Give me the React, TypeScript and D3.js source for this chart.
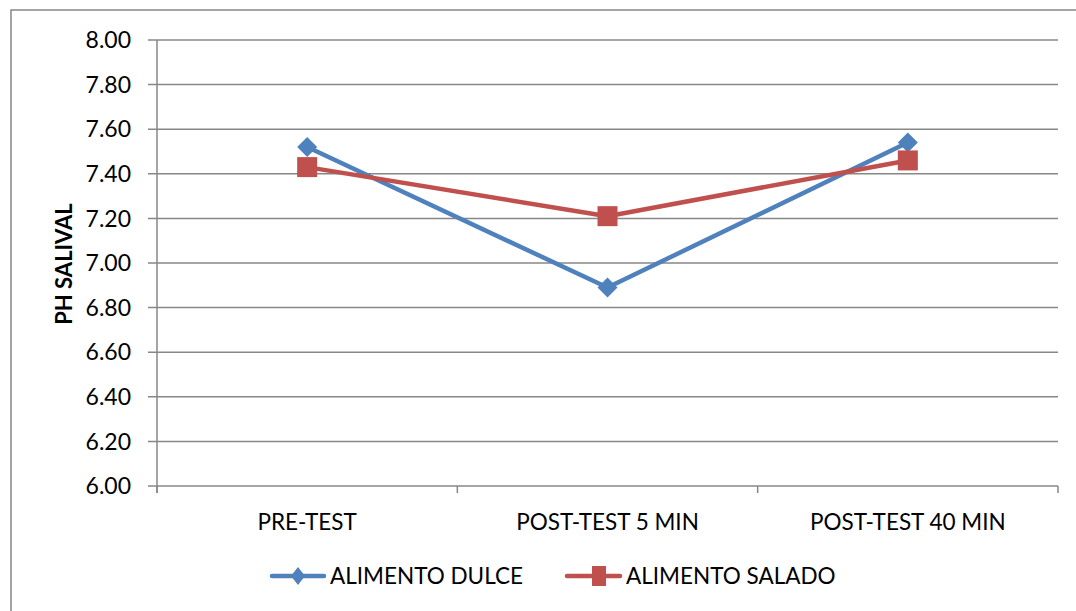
import React from "react";
import * as d3 from "d3";

const categories = ["PRE-TEST", "POST-TEST 5 MIN", "POST-TEST 40 MIN"];
const dulce = [7.52, 6.89, 7.54];
const salado = [7.43, 7.21, 7.46];
const yTicks = [6.0, 6.2, 6.4, 6.6, 6.8, 7.0, 7.2, 7.4, 7.6, 7.8, 8.0];
const seriesNames = ["ALIMENTO DULCE", "ALIMENTO SALADO"];

const W = 1076, H = 611;
const L = 157, R = 1058, T = 40, B = 486;
const FONT = "Lato, 'Open Sans', sans-serif";
const BLUE = "#4F81BD", RED = "#C0504D", GRID = "#878787";

export default function App() {
  const x = d3.scaleBand<string>().domain(categories).range([L, R]).padding(0);
  const y = d3.scaleLinear().domain([6, 8]).range([B, T]);
  const cx = (c: string) => (x(c) as number) + x.bandwidth() / 2;
  const line = d3.line<number>().x((_, i) => cx(categories[i])).y((d) => y(d));
  const diamond = (px: number, py: number, rx: number, ry: number) =>
    `M${px},${py - ry}L${px + rx},${py}L${px},${py + ry}L${px - rx},${py}Z`;
  const boundaries = [L, ...categories.map((c) => (x(c) as number) + x.bandwidth())];
  const LY = 576;

  return (
    <svg width={W} height={H} style={{ position: "absolute", left: 0, top: 0, background: "#fff" }}>
      <rect x={11} y={10} width={1080} height={620} fill="none" stroke={GRID} strokeWidth={1.5} />
      {yTicks.map((t) => (
        <g key={t}>
          <line x1={148} x2={R} y1={y(t)} y2={y(t)} stroke={GRID} strokeWidth={1.5} />
          <text x={131} y={y(t)} dy="0.36em" textAnchor="end" fontFamily={FONT} fontSize={23} fill="#000">
            {t.toFixed(2)}
          </text>
        </g>
      ))}
      <line x1={L} x2={L} y1={T} y2={B + 7} stroke={GRID} strokeWidth={1.5} />
      {boundaries.map((b, i) => (
        <line key={i} x1={b} x2={b} y1={B} y2={B + 7} stroke={GRID} strokeWidth={1.5} />
      ))}
      {categories.map((c) => (
        <text key={c} x={cx(c)} y={530} textAnchor="middle" fontFamily={FONT} fontSize={22.5} fill="#000">
          {c}
        </text>
      ))}
      <text
        transform={`translate(72,264) rotate(-90)`}
        textAnchor="middle"
        fontFamily={FONT}
        fontSize={22}
        fontWeight="bold"
        fill="#000"
      >
        PH SALIVAL
      </text>
      <path d={line(dulce) || ""} fill="none" stroke={BLUE} strokeWidth={4.5} strokeLinejoin="round" />
      <path d={line(salado) || ""} fill="none" stroke={RED} strokeWidth={4.5} strokeLinejoin="round" />
      {dulce.map((v, i) => (
        <path key={"d" + i} d={diamond(cx(categories[i]), y(v), 10, 10)} fill={BLUE} />
      ))}
      {salado.map((v, i) => (
        <rect key={"s" + i} x={cx(categories[i]) - 10} y={y(v) - 10} width={20} height={20} fill={RED} />
      ))}
      {/* legend */}
      <g>
        <line x1={272} x2={324} y1={LY} y2={LY} stroke={BLUE} strokeWidth={4.5} strokeLinecap="round" />
        <path d={diamond(298, LY, 7, 9)} fill={BLUE} />
        <text x={330} y={LY} dy="0.36em" fontFamily={FONT} fontSize={22.5} fill="#000">{seriesNames[0]}</text>
        <line x1={567} x2={620} y1={LY} y2={LY} stroke={RED} strokeWidth={4.5} strokeLinecap="round" />
        <rect x={592} y={LY - 10} width={14} height={20} fill={RED} />
        <text x={626} y={LY} dy="0.36em" fontFamily={FONT} fontSize={22.5} fill="#000">{seriesNames[1]}</text>
      </g>
    </svg>
  );
}
